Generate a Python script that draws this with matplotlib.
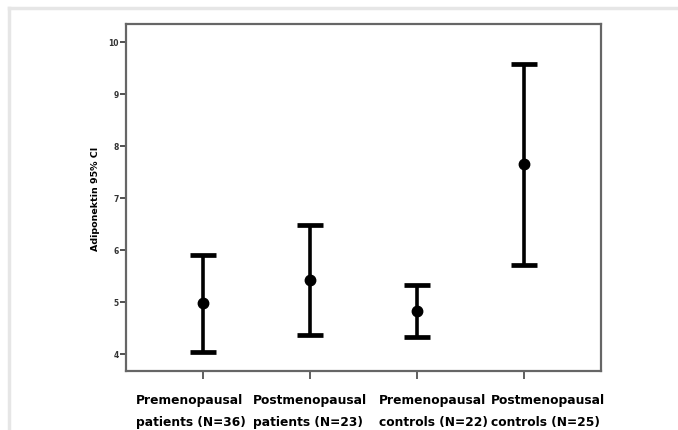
import numpy as np
from matplotlib import pyplot as plt
from matplotlib.lines import Line2D

# groups and 95% CI of adiponektin
groups = ["Premenopausal\npatients (N=36)", "Postmenopausal\npatients (N=23)",
          "Premenopausal\ncontrols (N=22)", "Postmenopausal\ncontrols (N=25)"]
means = [4.97, 5.42, 4.82, 7.64]
ci_low = [4.03, 4.37, 4.32, 5.71]
ci_high = [5.90, 6.47, 5.33, 9.58]
yticks = [4, 5, 6, 7, 8, 9, 10]

fig = plt.figure(figsize=(6.78, 4.31), dpi=100)
ax = fig.add_axes([0.1858, 0.1369, 0.7006, 0.8051])

x = np.arange(len(groups))
means = np.array(means)
err = [means - np.array(ci_low), np.array(ci_high) - means]
ax.errorbar(x, means, yerr=err, fmt='o', color='black', markersize=7.5,
            elinewidth=2.6, capsize=9.5, capthick=3.4)

ax.set_xlim(-0.72, 3.72)
ax.set_ylim(3.67, 10.34)
ax.set_yticks(yticks)
ax.set_yticklabels([str(t) for t in yticks], fontsize=5.5, fontweight='bold', color='#333333')
ax.tick_params(axis='y', length=4, width=1.2, pad=1, color='#333333')
ax.set_xticks(x)
ax.set_xticklabels([])
ax.tick_params(axis='x', length=6, width=1.2, color='#444444')

for s in ax.spines.values():
    s.set_color('#666666')
    s.set_linewidth(1.6)

ax.set_ylabel("Adiponektin 95% CI", fontsize=6.8, fontweight='bold', labelpad=6)

# category labels, left aligned under the axis
label_x = [0.021, 0.267, 0.533, 0.768]
for lx, g in zip(label_x, groups):
    ax.text(lx, -0.062, g, transform=ax.transAxes, ha='left', va='top',
            fontsize=8.8, fontweight='bold', family='DejaVu Sans', linespacing=1.95)

# light outer border of the picture
fig.add_artist(Line2D([0.0133, 0.0133], [0, 0.979], color='#e6e6e6', lw=2.5, transform=fig.transFigure))
fig.add_artist(Line2D([0.0133, 1], [0.979, 0.979], color='#e6e6e6', lw=2.5, transform=fig.transFigure))

fig.savefig("out.png", dpi=100)
